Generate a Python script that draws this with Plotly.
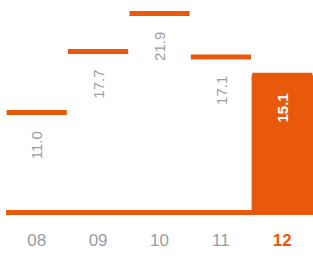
import plotly.graph_objects as go

categories = ["08", "09", "10", "11", "12"]
values = [11.0, 17.7, 21.9, 17.1, 15.1]
labels = ["11.0", "17.7", "21.9", "17.1", "15.1"]

ORANGE = "#E8590C"
GRAY = "#9c9c9c"
FONT = "Liberation Sans"

fig = go.Figure()

# highlighted last bar (filled)
fig.add_trace(go.Bar(x=[len(values) - 1], y=[values[-1]], width=1,
                     marker=dict(color=ORANGE, line=dict(width=0)),
                     hoverinfo="skip"))

# top lines for each category
for i, v in enumerate(values):
    fig.add_trace(go.Scatter(x=[i - 0.49, i + 0.49], y=[v, v], mode="lines",
                             line=dict(color=ORANGE, width=5),
                             hoverinfo="skip"))

for i, (v, t) in enumerate(zip(values, labels)):
    last = i == len(values) - 1
    fig.add_annotation(x=i, y=v, text=("<b>%s</b>" % t) if last else t,
                       textangle=-90, showarrow=False, yshift=-33,
                       font=dict(family=FONT, size=15,
                                 color="white" if last else GRAY))

ticktext = [c for c in categories[:-1]] + [
    "<span style='color:%s'><b>%s</b></span>" % (ORANGE, categories[-1])]

fig.update_layout(
    width=313, height=259,
    margin=dict(l=6, r=0, t=0, b=39),
    paper_bgcolor="white", plot_bgcolor="white",
    showlegend=False,
    xaxis=dict(range=[-0.5, len(values) - 0.5], tickvals=list(range(len(values))),
               ticktext=ticktext, showgrid=False, zeroline=False, ticks="",
               ticklabelstandoff=8,
               tickfont=dict(family=FONT, size=17, color=GRAY), fixedrange=True),
    yaxis=dict(range=[-0.825, 23.375], showgrid=False, showticklabels=False,
               zeroline=True, zerolinecolor=ORANGE, zerolinewidth=5, fixedrange=True),
)

fig.write_html("out.html", config={"displayModeBar": False},
               post_script="document.body.style.margin='0';document.body.style.overflow='hidden';")
